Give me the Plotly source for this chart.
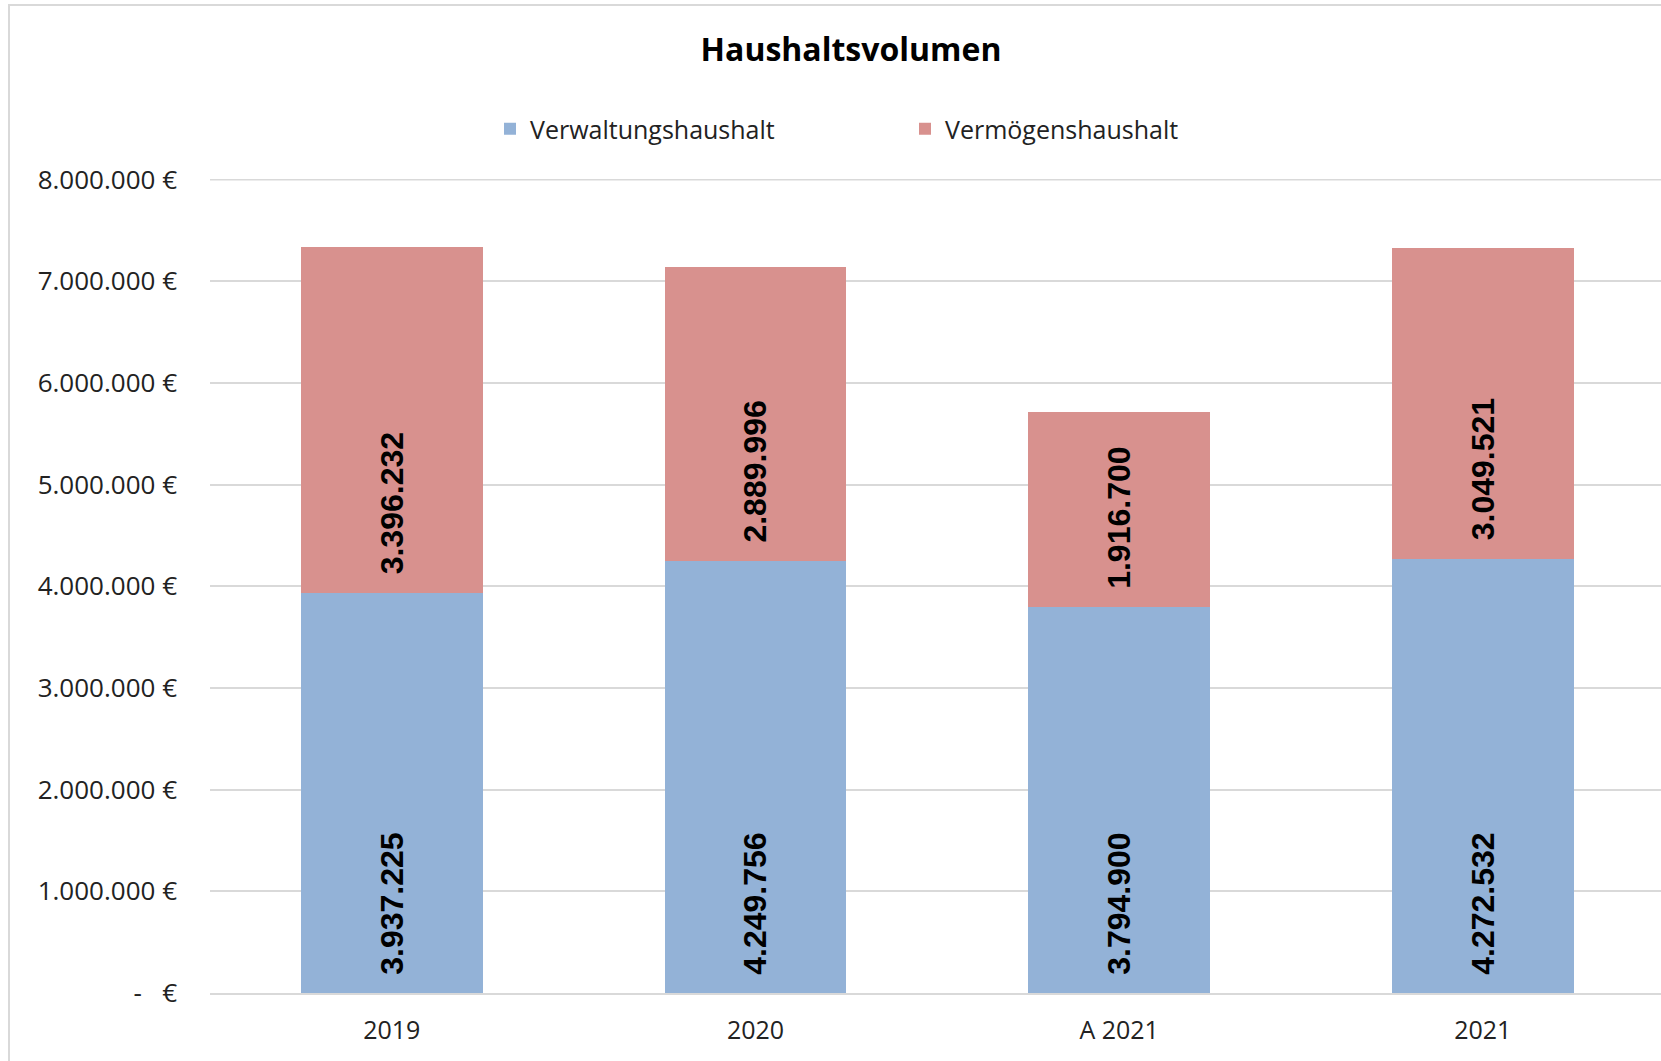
import plotly.graph_objects as go

categories = ["2019", "2020", "A 2021", "2021"]
verwaltung = [3937225, 4249756, 3794900, 4272532]
vermoegen = [3396232, 2889996, 1916700, 3049521]
series_names = ["Verwaltungshaushalt", "Vermögenshaushalt"]
tick_values = [0, 1000000, 2000000, 3000000, 4000000, 5000000, 6000000, 7000000, 8000000]
tick_labels = ["-   €", "1.000.000 €", "2.000.000 €", "3.000.000 €", "4.000.000 €",
               "5.000.000 €", "6.000.000 €", "7.000.000 €", "8.000.000 €"]

def fmt(v):
    return "\u00a0\u2009" + f"{v:,}".replace(",", ".")

W, H = 1661, 1061
ml, mr, mt, mb = 210, 0, 179, 68
pw, ph = W - ml - mr, H - mt - mb

fig = go.Figure()
for name, vals, color in [(series_names[0], verwaltung, "#93B2D7"),
                          (series_names[1], vermoegen, "#D8918E")]:
    fig.add_trace(go.Bar(
        x=categories, y=vals, name=name,
        marker=dict(color=color, line=dict(width=0)),
        text=[fmt(v) for v in vals],
        textposition="inside", insidetextanchor="start", textangle=-90,
        textfont=dict(family="Liberation Sans", size=32, color="black", weight="bold"),
        constraintext="none",
    ))

fig.update_layout(
    width=W, height=H,
    barmode="stack", bargap=0.5,
    margin=dict(l=ml, r=mr, t=mt, b=mb),
    paper_bgcolor="white", plot_bgcolor="white",
    title=dict(text="<b>Haushaltsvolumen</b>", x=851 / W, xref="container", xanchor="center",
               y=1 - 50 / H, yref="container", yanchor="middle",
               font=dict(family="Open Sans", size=32, color="black")),
    legend=dict(orientation="h", x=(490 - ml) / pw, xanchor="left",
                y=1 + (mt - 129) / ph, yanchor="middle",
                font=dict(family="Open Sans", size=25, color="#222222"),
                entrywidth=370, traceorder="normal"),
    xaxis=dict(range=[-0.5, 3.49], showgrid=False, showline=True, linecolor="#D9D9D9", linewidth=2,
               tickfont=dict(family="Open Sans", size=25, color="#222222"), ticks="",
               ticklabelstandoff=14),
    yaxis=dict(range=[0, 8005000], tickvals=tick_values, ticktext=tick_labels,
               showgrid=True, gridcolor="#D9D9D9", gridwidth=2, zeroline=False,
               tickfont=dict(family="Open Sans", size=26, color="#222222"), ticks="",
               ticklabelstandoff=32),
    shapes=[
        dict(type="rect", xref="paper", yref="paper",
             x0=(9 - ml) / pw, x1=1.05, y0=-0.2, y1=1 + (mt - 5) / ph,
             line=dict(color="#D9D9D9", width=2), fillcolor="rgba(0,0,0,0)", layer="below"),
        dict(type="line", xref="paper", yref="y", x0=0, x1=1,
             y0=tick_values[-1], y1=tick_values[-1],
             line=dict(color="#D9D9D9", width=2), layer="below"),
    ],
    uniformtext=dict(mode=False),
)

fig.write_html("out.html", config={"displayModeBar": False},
               post_script="document.body.style.margin='0';")
